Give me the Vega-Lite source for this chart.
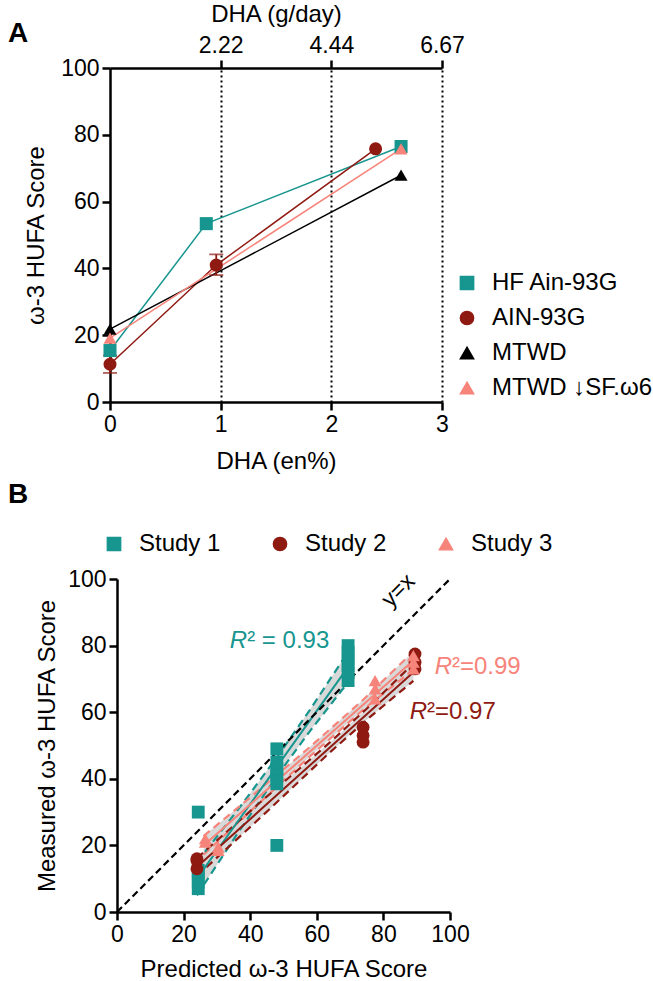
{
  "$schema": "https://vega.github.io/schema/vega-lite/v6.json",
  "background": "white",
  "padding": {"left": 8, "top": 2, "right": 0, "bottom": 0},
  "config": {
    "font": "Liberation Sans",
    "view": {"stroke": null},
    "axis": {"domainColor": "black", "domainWidth": 2.5, "tickColor": "black", "tickWidth": 2.5, "tickSize": 8, "labelFontSize": 23, "labelColor": "black", "titleFontSize": 24, "titleFontWeight": "normal", "titleColor": "black", "labelPadding": 3, "grid": false, "labelFlush": false, "labelOverlap": false},
    "legend": {"labelFontSize": 24, "labelColor": "black", "symbolSize": 175, "symbolOpacity": 1, "labelOffset": 13, "rowPadding": 11, "title": null, "labelLimit": 400},
    "title": {"fontSize": 28, "fontWeight": "bold", "anchor": "start", "frame": "group", "offset": 0, "color": "black"}
  },
  "datasets": {
    "dietA": [
      {"diet": "HF Ain-93G", "dha": 0, "score": 15.4},
      {"diet": "HF Ain-93G", "dha": 0.87, "score": 53.4},
      {"diet": "HF Ain-93G", "dha": 2.63, "score": 76.5},
      {"diet": "AIN-93G", "dha": 0, "score": 11.3, "lo": 8.7, "hi": 13.9},
      {"diet": "AIN-93G", "dha": 0.96, "score": 41.0, "lo": 38.0, "hi": 44.2},
      {"diet": "AIN-93G", "dha": 2.4, "score": 75.8},
      {"diet": "MTWD", "dha": 0, "score": 21.8},
      {"diet": "MTWD", "dha": 2.63, "score": 67.9},
      {"diet": "MTWD ↓SF.ω6", "dha": 0, "score": 19.1},
      {"diet": "MTWD ↓SF.ω6", "dha": 2.63, "score": 75.8}
    ],
    "fitB": [
      {"study": "Study 1", "x": 24, "fit": 10, "lo": 5, "hi": 15},
      {"study": "Study 1", "x": 36, "fit": 26.8, "lo": 23.3, "hi": 30.3},
      {"study": "Study 1", "x": 48, "fit": 43.6, "lo": 40.8, "hi": 46.4},
      {"study": "Study 1", "x": 58, "fit": 57.6, "lo": 54.4, "hi": 60.8},
      {"study": "Study 1", "x": 69, "fit": 73, "lo": 68.5, "hi": 77.5},
      {"study": "Study 2", "x": 24, "fit": 13.5, "lo": 10.8, "hi": 16.2},
      {"study": "Study 2", "x": 44, "fit": 31.5, "lo": 29.2, "hi": 33.8},
      {"study": "Study 2", "x": 64, "fit": 49.5, "lo": 48, "hi": 51},
      {"study": "Study 2", "x": 76, "fit": 60.3, "lo": 58.6, "hi": 62},
      {"study": "Study 2", "x": 89, "fit": 72, "lo": 69.4, "hi": 74.6},
      {"study": "Study 3", "x": 26, "fit": 20, "lo": 17.2, "hi": 22.8},
      {"study": "Study 3", "x": 40, "fit": 32.3, "lo": 30.2, "hi": 34.4},
      {"study": "Study 3", "x": 58, "fit": 48.2, "lo": 46.8, "hi": 49.6},
      {"study": "Study 3", "x": 74, "fit": 62.3, "lo": 60.8, "hi": 63.8},
      {"study": "Study 3", "x": 89, "fit": 75.5, "lo": 72.8, "hi": 78.2}
    ],
    "pointsB": [
      {"study": "Study 1", "x": 24.4, "y": 30},
      {"study": "Study 1", "x": 24.4, "y": 12.5},
      {"study": "Study 1", "x": 24.4, "y": 11},
      {"study": "Study 1", "x": 24.4, "y": 9},
      {"study": "Study 1", "x": 24.4, "y": 7},
      {"study": "Study 1", "x": 48, "y": 20},
      {"study": "Study 1", "x": 48, "y": 38.5},
      {"study": "Study 1", "x": 48, "y": 41},
      {"study": "Study 1", "x": 48, "y": 43},
      {"study": "Study 1", "x": 48, "y": 45},
      {"study": "Study 1", "x": 48, "y": 49},
      {"study": "Study 1", "x": 69.4, "y": 69.5},
      {"study": "Study 1", "x": 69.4, "y": 72},
      {"study": "Study 1", "x": 69.4, "y": 74},
      {"study": "Study 1", "x": 69.4, "y": 76},
      {"study": "Study 1", "x": 69.4, "y": 78},
      {"study": "Study 1", "x": 69.4, "y": 80},
      {"study": "Study 2", "x": 24, "y": 13},
      {"study": "Study 2", "x": 24, "y": 15.5},
      {"study": "Study 2", "x": 24, "y": 16},
      {"study": "Study 2", "x": 73.9, "y": 51},
      {"study": "Study 2", "x": 73.9, "y": 53},
      {"study": "Study 2", "x": 73.9, "y": 55.5},
      {"study": "Study 2", "x": 89.5, "y": 73},
      {"study": "Study 2", "x": 89.5, "y": 75},
      {"study": "Study 2", "x": 89.5, "y": 77.5},
      {"study": "Study 3", "x": 26.5, "y": 22},
      {"study": "Study 3", "x": 26.5, "y": 21},
      {"study": "Study 3", "x": 30.4, "y": 19.5},
      {"study": "Study 3", "x": 30.4, "y": 18.5},
      {"study": "Study 3", "x": 77.5, "y": 64},
      {"study": "Study 3", "x": 77.5, "y": 67},
      {"study": "Study 3", "x": 77.5, "y": 69.5},
      {"study": "Study 3", "x": 89, "y": 73},
      {"study": "Study 3", "x": 89, "y": 75},
      {"study": "Study 3", "x": 89, "y": 77}
    ],
    "diag": [{"x": 0, "y": 0}, {"x": 100, "y": 100}],
    "diagLabel": [{"x": 84.5, "y": 96.5, "t": "y=x"}],
    "r2": [
      {"study": "Study 1", "x": 39.1, "y": 81.3, "rest": "² = 0.93"},
      {"study": "Study 3", "x": 100.6, "y": 73.6, "rest": "²=0.99"},
      {"study": "Study 2", "x": 93.1, "y": 60.1, "rest": "²=0.97"}
    ]
  },
  "concat": [
    {
      "width": 325,
      "height": 334,
      "title": {"text": "A", "dx": -109, "dy": 50},
      "data": {"name": "dietA"},
      "resolve": {"axis": {"x": "independent"}},
      "layer": [
        {
          "mark": {"type": "line", "strokeWidth": 1.5},
          "encoding": {
            "x": {"field": "dha", "type": "quantitative", "title": "DHA (g/day)", "scale": {"domain": [0, 3], "nice": false, "range": [-7, 325]},
              "axis": {"orient": "top", "values": [1, 2, 3], "labelExpr": "datum.value == 1 ? '2.22' : datum.value == 2 ? '4.44' : '6.67'", "grid": true, "gridDash": [2, 3], "gridColor": "black", "gridWidth": 2, "titlePadding": 8}},
            "y": {"field": "score", "type": "quantitative", "title": "ω-3 HUFA Score", "scale": {"domain": [0, 100], "nice": false},
              "axis": {"values": [0, 20, 40, 60, 80, 100], "titlePadding": 12, "offset": 7}},
            "color": {"field": "diet", "type": "nominal", "scale": {"domain": ["HF Ain-93G", "AIN-93G", "MTWD", "MTWD ↓SF.ω6"], "range": ["#17958f", "#8f1a12", "#000000", "#f7847a"]}},
            "detail": {"field": "diet"}
          }
        },
        {
          "transform": [{"filter": "isValid(datum.lo)"}],
          "mark": {"type": "rule", "color": "#8f1a12", "strokeWidth": 1.8},
          "encoding": {
            "x": {"field": "dha", "type": "quantitative", "title": "DHA (g/day)", "axis": null},
            "y": {"field": "lo", "type": "quantitative", "title": "ω-3 HUFA Score"},
            "y2": {"field": "hi"}
          }
        },
        {
          "transform": [{"filter": "isValid(datum.lo)"}],
          "mark": {"type": "tick", "orient": "horizontal", "size": 14, "thickness": 1.8, "color": "#8f1a12"},
          "encoding": {
            "x": {"field": "dha", "type": "quantitative", "title": "DHA (g/day)", "axis": null},
            "y": {"field": "lo", "type": "quantitative", "title": "ω-3 HUFA Score"}
          }
        },
        {
          "transform": [{"filter": "isValid(datum.lo)"}],
          "mark": {"type": "tick", "orient": "horizontal", "size": 14, "thickness": 1.8, "color": "#8f1a12"},
          "encoding": {
            "x": {"field": "dha", "type": "quantitative", "title": "DHA (g/day)", "axis": null},
            "y": {"field": "hi", "type": "quantitative", "title": "ω-3 HUFA Score"}
          }
        },
        {
          "mark": {"type": "point", "filled": true, "opacity": 1, "size": 170},
          "encoding": {
            "x": {"field": "dha", "type": "quantitative", "title": "DHA (en%)",
              "axis": {"orient": "bottom", "values": [0, 1, 2, 3], "format": "d", "titlePadding": 13}},
            "y": {"field": "score", "type": "quantitative", "title": "ω-3 HUFA Score"},
            "color": {"field": "diet", "type": "nominal",
              "legend": {"orient": "none", "legendX": 338, "legendY": 203, "direction": "vertical"}},
            "shape": {"field": "diet", "type": "nominal", "scale": {"domain": ["HF Ain-93G", "AIN-93G", "MTWD", "MTWD ↓SF.ω6"], "range": ["square", "circle", "triangle-up", "triangle-up"]},
              "legend": {"orient": "none", "legendX": 338, "legendY": 203, "direction": "vertical"}}
          }
        }
      ]
    },
    {
      "width": 333,
      "height": 333,
      "title": {"text": "B", "dx": -109, "dy": -19},
      "layer": [
        {
          "data": {"name": "fitB"},
          "mark": {"type": "area", "color": "#d9d9d9", "opacity": 1},
          "encoding": {
            "x": {"field": "x", "type": "quantitative", "title": "Predicted ω-3 HUFA Score", "scale": {"domain": [0, 100], "nice": false},
              "axis": {"values": [0, 20, 40, 60, 80, 100], "titlePadding": 11}},
            "y": {"field": "lo", "type": "quantitative", "title": "Measured ω-3 HUFA Score", "scale": {"domain": [0, 100], "nice": false},
              "axis": {"values": [0, 20, 40, 60, 80, 100], "titlePadding": 8}},
            "y2": {"field": "hi"},
            "detail": {"field": "study"}
          }
        },
        {
          "data": {"name": "fitB"},
          "mark": {"type": "line", "strokeWidth": 2.2, "strokeDash": [8, 5]},
          "encoding": {
            "x": {"field": "x", "type": "quantitative", "title": "Predicted ω-3 HUFA Score"},
            "y": {"field": "lo", "type": "quantitative", "title": "Measured ω-3 HUFA Score"},
            "color": {"field": "study", "type": "nominal", "scale": {"domain": ["Study 1", "Study 2", "Study 3"], "range": ["#17958f", "#8f1a12", "#f7847a"]}}
          }
        },
        {
          "data": {"name": "fitB"},
          "mark": {"type": "line", "strokeWidth": 2.2, "strokeDash": [8, 5]},
          "encoding": {
            "x": {"field": "x", "type": "quantitative", "title": "Predicted ω-3 HUFA Score"},
            "y": {"field": "hi", "type": "quantitative", "title": "Measured ω-3 HUFA Score"},
            "color": {"field": "study", "type": "nominal"}
          }
        },
        {
          "data": {"name": "fitB"},
          "mark": {"type": "line", "strokeWidth": 2},
          "encoding": {
            "x": {"field": "x", "type": "quantitative", "title": "Predicted ω-3 HUFA Score"},
            "y": {"field": "fit", "type": "quantitative", "title": "Measured ω-3 HUFA Score"},
            "color": {"field": "study", "type": "nominal"}
          }
        },
        {
          "data": {"name": "diag"},
          "mark": {"type": "line", "strokeWidth": 2.2, "strokeDash": [7, 4], "color": "black"},
          "encoding": {
            "x": {"field": "x", "type": "quantitative", "title": "Predicted ω-3 HUFA Score"},
            "y": {"field": "y", "type": "quantitative", "title": "Measured ω-3 HUFA Score"}
          }
        },
        {
          "data": {"name": "pointsB"},
          "mark": {"type": "point", "filled": true, "opacity": 1, "size": 165},
          "encoding": {
            "x": {"field": "x", "type": "quantitative", "title": "Predicted ω-3 HUFA Score"},
            "y": {"field": "y", "type": "quantitative", "title": "Measured ω-3 HUFA Score"},
            "color": {"field": "study", "type": "nominal",
              "legend": {"orient": "none", "legendX": -15, "legendY": -47, "direction": "horizontal", "columnPadding": 47}},
            "shape": {"field": "study", "type": "nominal", "scale": {"domain": ["Study 1", "Study 2", "Study 3"], "range": ["square", "circle", "triangle-up"]},
              "legend": {"orient": "none", "legendX": -15, "legendY": -47, "direction": "horizontal", "columnPadding": 47}}
          }
        },
        {
          "data": {"name": "diagLabel"},
          "mark": {"type": "text", "fontSize": 23, "angle": 315, "align": "center", "baseline": "middle", "color": "black"},
          "encoding": {
            "x": {"field": "x", "type": "quantitative", "title": "Predicted ω-3 HUFA Score"},
            "y": {"field": "y", "type": "quantitative", "title": "Measured ω-3 HUFA Score"},
            "text": {"field": "t"}
          }
        },
        {
          "data": {"name": "r2"},
          "mark": {"type": "text", "fontSize": 24, "fontStyle": "italic", "align": "right", "baseline": "middle"},
          "encoding": {
            "x": {"field": "x", "type": "quantitative", "title": "Predicted ω-3 HUFA Score"},
            "y": {"field": "y", "type": "quantitative", "title": "Measured ω-3 HUFA Score"},
            "text": {"value": "R"},
            "color": {"field": "study", "type": "nominal"}
          }
        },
        {
          "data": {"name": "r2"},
          "mark": {"type": "text", "fontSize": 24, "align": "left", "baseline": "middle"},
          "encoding": {
            "x": {"field": "x", "type": "quantitative", "title": "Predicted ω-3 HUFA Score"},
            "y": {"field": "y", "type": "quantitative", "title": "Measured ω-3 HUFA Score"},
            "text": {"field": "rest"},
            "color": {"field": "study", "type": "nominal"}
          }
        }
      ]
    }
  ],
  "columns": 1,
  "spacing": 8,
  "resolve": {"scale": {"color": "independent", "shape": "independent"}, "legend": {"color": "independent", "shape": "independent"}}
}
